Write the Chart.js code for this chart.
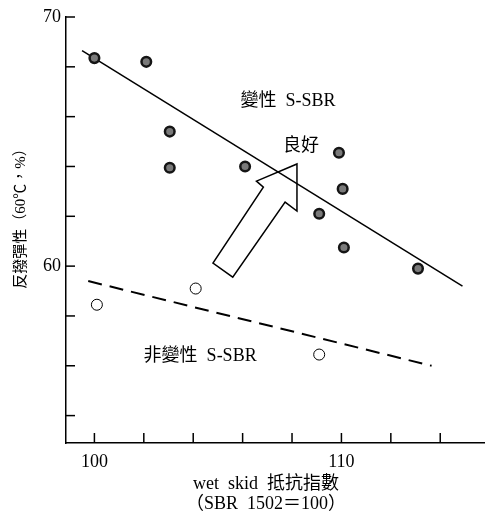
<!DOCTYPE html>
<html>
<head>
<meta charset="utf-8">
<script src="https://cdn.jsdelivr.net/npm/chart.js@4.4.1/dist/chart.umd.min.js"></script>
<style>
  html, body { margin: 0; padding: 0; background: #fff; }
  #chart { display: block; }
</style>
</head>
<body>
<canvas id="chart" width="492" height="513"></canvas>
<script>
// modified S-SBR (filled dots)
const modX = [100, 102.1, 103.05, 103.05, 106.1, 109.9, 110.05, 109.1, 110.1, 113.1];
const modY = [68.35, 68.2, 65.4, 63.95, 64.0, 64.55, 63.1, 62.1, 60.75, 59.9];
// unmodified S-SBR (open circles)
const unmodX = [100.1, 104.1, 109.1];
const unmodY = [58.45, 59.1, 56.45];
// fitted lines
const modLineX = [99.5, 114.9];
const modLineY = [68.65, 59.2];
const unmodLineX = [99.75, 113.65];
const unmodLineY = [59.4, 56.0];
// ticks
const xTicks = [100, 102, 104, 106, 108, 110, 112, 114];
const xTickLabels = [100, 110];
const yTicks = [54, 56, 58, 60, 62, 64, 66, 68, 70];
const yTickLabels = [60, 70];
// "good" arrow outline (data units)
const arrowX = [108.2, 108.2, 107.72, 105.6, 104.8, 106.84, 106.56];
const arrowY = [64.1, 62.21, 62.57, 59.56, 60.12, 63.17, 63.41];
// annotations
const noteText = ['變性  S-SBR', '良好', '非變性  S-SBR'];
const noteX = [107.84, 108.36, 104.28];
const noteY = [66.63, 64.82, 56.39];

const FONT = '"Liberation Serif", "Noto Sans CJK TC", serif';
const zip = (xs, ys) => xs.map((v, i) => ({ x: v, y: ys[i] }));

const extras = {
  id: 'extras',
  afterDatasetsDraw(chart) {
    const { ctx, chartArea: area, scales: { x, y } } = chart;
    ctx.save();
    ctx.strokeStyle = '#000';
    ctx.lineWidth = 1.5;
    // inward tick marks
    xTicks.forEach(v => {
      const px = x.getPixelForValue(v);
      ctx.beginPath(); ctx.moveTo(px, area.bottom); ctx.lineTo(px, area.bottom - 10); ctx.stroke();
    });
    yTicks.forEach(v => {
      const py = y.getPixelForValue(v);
      ctx.beginPath(); ctx.moveTo(area.left, py); ctx.lineTo(area.left + 9, py); ctx.stroke();
    });
    // arrow
    ctx.beginPath();
    arrowX.forEach((v, i) => {
      const px = x.getPixelForValue(v), py = y.getPixelForValue(arrowY[i]);
      i ? ctx.lineTo(px, py) : ctx.moveTo(px, py);
    });
    ctx.closePath();
    ctx.lineJoin = 'miter';
    ctx.stroke();
    // notes
    ctx.fillStyle = '#000';
    ctx.font = '18px ' + FONT;
    ctx.textAlign = 'center';
    ctx.textBaseline = 'middle';
    noteText.forEach((t, i) => ctx.fillText(t, x.getPixelForValue(noteX[i]), y.getPixelForValue(noteY[i])));
    // axis titles
    ctx.font = '18px ' + FONT;
    ctx.fillText('wet  skid  抵抗指數', 266, 484);
    ctx.fillText('（SBR  1502＝100）', 266, 504);
    ctx.translate(21, 215);
    ctx.rotate(-Math.PI / 2);
    ctx.font = '15px ' + FONT;
    ctx.fillText('反撥彈性（60℃，%）', 0, 0);
    ctx.restore();
  }
};

new Chart(document.getElementById('chart'), {
  type: 'scatter',
  data: {
    datasets: [
      {
        data: zip(modX, modY), order: 0,
        pointRadius: 4.8, backgroundColor: '#7a7a7a', borderColor: '#151515', borderWidth: 2.5
      },
      {
        data: zip(unmodX, unmodY), order: 0,
        pointRadius: 5.5, backgroundColor: '#fff', borderColor: '#000', borderWidth: 1
      },
      {
        data: zip(modLineX, modLineY), order: 1, showLine: true,
        pointRadius: 0, borderColor: '#000', borderWidth: 1.5
      },
      {
        data: zip(unmodLineX, unmodLineY), order: 1, showLine: true,
        pointRadius: 0, borderColor: '#000', borderWidth: 2, borderDash: [14, 8]
      }
    ]
  },
  options: {
    responsive: false,
    devicePixelRatio: 1,
    animation: false,
    layout: { padding: { top: 17, right: 2, left: 0, bottom: 0 } },
    plugins: { legend: { display: false }, tooltip: { enabled: false } },
    scales: {
      x: {
        type: 'linear', min: 98.85, max: 115.8,
        afterBuildTicks: s => { s.ticks = xTicks.map(v => ({ value: v })); },
        afterFit: s => { s.height = 70; },
        grid: { display: false, drawTicks: false },
        border: { display: true, color: '#000', width: 1.5 },
        ticks: {
          padding: 8, color: '#000', font: { family: FONT, size: 18 },
          callback: v => xTickLabels.includes(v) ? String(v) : ''
        }
      },
      y: {
        type: 'linear', min: 52.9, max: 70,
        afterBuildTicks: s => { s.ticks = yTicks.map(v => ({ value: v })); },
        afterFit: s => { s.width = 66; },
        grid: { display: false, drawTicks: false },
        border: { display: true, color: '#000', width: 1.5 },
        ticks: {
          padding: 5, color: '#000', font: { family: FONT, size: 18 },
          callback: v => yTickLabels.includes(v) ? String(v) : ''
        }
      }
    }
  },
  plugins: [extras]
});
</script>
</body>
</html>
